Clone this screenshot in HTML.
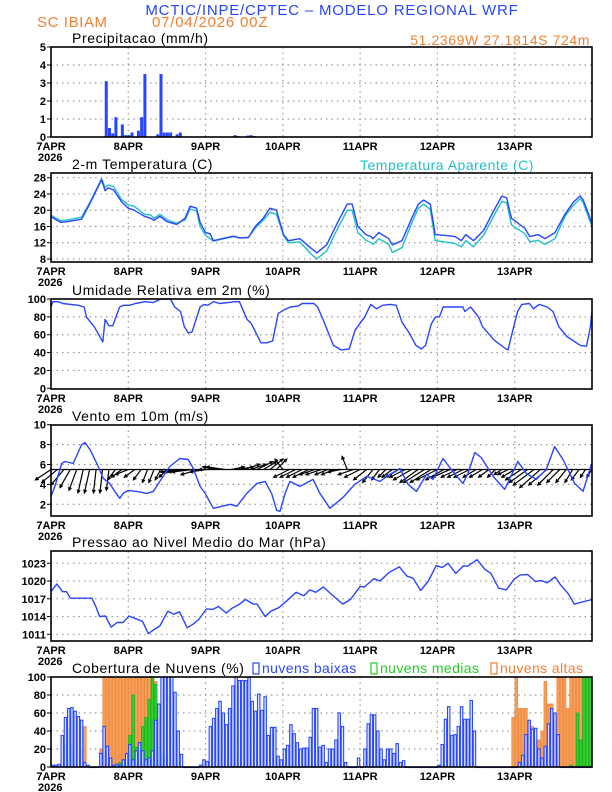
<!DOCTYPE html>
<html><head><meta charset="utf-8">
<style>
html,body{margin:0;padding:0;background:#fff;}
svg{display:block;font-family:"Liberation Sans",sans-serif;}
</style></head>
<body>
<svg id="chart" width="612" height="792" viewBox="0 0 612 792">
<text x="332" y="15" text-anchor="middle" font-size="15" fill="#2846ff" letter-spacing="0.8">MCTIC/INPE/CPTEC – MODELO REGIONAL WRF</text>
<text x="37" y="27" font-size="15" fill="#f08030" letter-spacing="0.6">SC IBIAM</text>
<text x="152" y="27" font-size="15" fill="#f08030" letter-spacing="0.8">07/04/2026 00Z</text>
<text x="590" y="45" text-anchor="end" font-size="14" fill="#f08030" letter-spacing="0.6">51.2369W 27.1814S 724m</text>
<text x="360" y="170" font-size="14" fill="#20c0c8" letter-spacing="0.5">Temperatura Aparente (C)</text>
</svg>
<script>
// ---------- data ----------
const dayLabels = ["7APR","8APR","9APR","10APR","11APR","12APR","13APR"];
const precipT = [17,18,19,20,22,23,24,25,27,28,29,33,34,35,36,37,39,40,57,58,60,61,62,63];
const precipV = [3.1,0.5,0.2,1.1,0.7,0.1,0.1,0.25,0.35,1.1,3.5,0.15,3.5,0.25,0.25,0.25,0.15,0.25,0.1,0.05,0.03,0.08,0.1,0.05];

const tempT = [0,3,6,9.5,12,15.7,16.8,17.8,19.4,22,24,25.8,29,31,32,33.8,36,39,41.6,43.2,45.2,46.3,48,49.4,50.4,56.6,58.7,61.3,63.4,65.9,68,70,72.2,73.7,77.3,80.4,82.5,85.6,89,92,93.5,95.3,97.8,99.4,100,101.8,104.9,106,109,112,114.1,115.7,117.8,119.3,122.4,125.5,127.4,128.8,131.2,134.3,137.9,140,141.5,143,147.2,148.7,151.3,153.4,156.5,159.6,162.2,164.3,165.3,167.4,168];
const tempV = [18.4,17.0,17.3,17.8,21.5,27.5,24.8,25.5,25.0,22,20.5,20.0,18.5,18.0,17.5,18.5,17.2,16.5,18.0,21.0,20.5,17,14.5,14.2,12.5,13.6,13.2,13.3,16,18,20.5,20,14,12.5,13,10.9,9.5,11.5,17,21.5,21.5,16,14,13.5,13,14.5,13,11.5,12.5,18,21.5,22.5,21.5,14,13.8,13.5,12.5,14,12.5,15,20.5,23.5,23,18,15.5,13.5,14,13,14.5,19,22,23.5,22.5,18,16.7];
const appV = [18.8,17.4,17.7,18.3,21.8,27.8,25.6,26.2,25.8,22.6,21.3,21.0,19.0,18.8,18.0,19.0,17.7,16.8,17.6,20.3,19.8,16,13.8,13.0,12.4,13.5,13.2,13.3,15.6,17.5,19.5,19,13.8,12.0,12.2,9.5,8.0,10.0,15.5,20.0,20.0,14.5,12.6,12.0,11.6,13.0,11.6,9.6,10.8,16.8,20.5,21.5,20.2,12.5,12.2,11.8,11.0,12.5,11.0,13.8,19.2,22.2,21.8,16.4,14.2,12.2,12.6,11.6,13.0,18.5,21.2,22.8,21.8,17.2,16.2];

const rhT = [0,0.6,2.4,3.6,8.5,10.3,11,13.4,16.1,16.8,18,19.2,21.3,22.5,24.4,26.2,29.2,31.7,34.1,37.1,38.4,40.2,41.4,42.6,43.8,46.3,47.5,48.7,50.5,52.4,57.2,58.5,60.9,62.1,65.2,67,68.8,70.6,72.5,74.3,76.7,78,81.6,82.8,84.6,87.7,90.1,92.6,94.4,96.2,97.4,99.3,101.1,102.9,105.4,107.2,109,111.4,113.3,115.1,116.3,118.1,119.4,120.6,121.8,123.6,125.4,127.9,128.5,130.3,132.8,134,137.6,141.3,141.9,143.7,144.9,146.2,148.6,149.8,151.6,154.1,155.9,157.7,160.2,164.4,166.3,167.5,168];
const rhV = [91,97,97,95,93,91,80,69,52,77,70,70,91,93,93,95,97,96,100,100,91,86,69,62,63,91,94,93,97,95,97,97,77,73,51,51,53,84,88,91,92,95,95,91,76,48,43,44,65,74,80,94,89,93,94,93,74,61,48,44,48,72,80,80,91,91,91,91,86,91,80,69,54,44,43,69,86,94,95,89,94,91,86,69,58,48,47,69,86];

const windT = [0,1.2,3.3,4.4,6.9,9.5,10.6,12.1,14.7,16.2,18.2,19.8,21.4,22.4,24,26.6,29.7,31.8,33.8,36.9,40,42.6,44.2,46.3,47.9,50.4,53,55.7,57.7,60.8,64,66.5,68.5,70.1,71.1,72.7,74.2,77.3,81.4,83.5,86.6,90.7,94.3,98,102.1,105.2,108.3,110.9,113.5,116.6,118.6,121.7,124.3,127.9,129.5,131.6,133.6,137.3,140.9,145,147.6,150.7,153.8,156.4,159,162.6,165.2,167.8];
const windV = [2.8,3.8,6.1,6.3,6.1,8.0,8.2,7.5,5.8,4.6,4.1,3.3,2.6,3.1,3.4,3.3,3.1,3.3,4.3,5.8,6.6,6.5,5.6,3.8,3.1,1.6,1.8,2.0,1.8,3.1,4.1,4.3,3.1,1.4,1.3,3.1,4.3,3.8,4.5,3.1,1.6,2.7,4.0,4.8,4.3,5.0,5.6,4.0,3.3,5.0,4.5,6.6,5.5,4.1,5.1,7.2,6.7,4.8,3.5,6.3,5.1,4.5,5.5,7.8,6.5,4.1,3.3,6.0];
// wind vector components every 2 h (t = 0,2,...,168)
const windU = [-6,-6,-5,-4, -3,-2,-2,-1,-1,-1, -3,-4,-5,-4,-3,-2, -2,-2,-3,-5,-6, -7,-8,-7,-6,-5,-6,-7, 5,6,6,6,6,5,5,4, -3,-6,-6,-6,-6, -6,-6,-5,-5,-5,-2,-6, -6,-5,-4,-3,-3,-4,-5, -6,-7,-7,-8,-8,-8,-7,-7,-6,-6,-6,-5,-5, -4,-3,-3,-4,-5,-6, -7,-8,-8,-7,-6,-5, -4,-3,-3,-2,-2];
const windW = [-4,-5,-6,-7, -8,-9,-9,-9,-9,-8, -4,-3,-2,-3,-4,-5, -5,-4,-3,-1,-1, -1,-1,-2,-1,0,1,1, 1,1,2,2,3,3,4,4, 4,-3,-3,-3,-3, -2,-2,-2,-2,-1,5,-2, -3,-4,-5,-4,-3,-3,-3, -3,-4,-5,-5,-5,-4,-4,-3,-3,-3,-3,-3,-3, -3,-3,-2,-2,-3,-4, -5,-6,-7,-6,-6,-5, -5,-5,-4,-3,-3];

const presT = [0,1.8,3.6,4.8,6,8.5,12.7,13.9,15.1,16.9,18.7,20.5,22.4,24.2,26,28.4,30.2,32,33.8,36.3,38.1,39.9,42.3,44.1,45.9,48.3,50.2,52,54.4,56.2,58.6,60.4,62.8,64,66.5,68.3,70.7,73.1,76.1,78.5,80.4,82.2,84.6,87,90.6,93,96,97.3,100.3,102.1,105.1,108.2,110.6,112.4,114.8,117.2,119.6,121.5,123.3,125.7,128.1,129.3,132.3,134.7,136.6,139,141.4,143.8,145.6,148,150.5,152.3,154.1,156.5,158.3,160.7,162.5,164.4,167.4,168];
const presV = [1018.2,1019.5,1018.2,1018.2,1017.1,1017.1,1017.1,1015.7,1014,1014.1,1012.2,1013,1013,1014.1,1013.7,1013.2,1011.1,1011.8,1012.4,1014.9,1014.4,1014.8,1012.1,1012.7,1013.5,1015.3,1015.2,1015.7,1014.6,1015.4,1016.1,1016.9,1016.1,1016.1,1014,1014.9,1015.5,1016.6,1018.1,1017.5,1018.5,1018.1,1019,1017.8,1016.1,1016.9,1019.1,1019,1020.4,1020,1021.5,1022.4,1020.8,1020.5,1018.4,1020,1022.6,1022.3,1023,1021.3,1022.6,1022.5,1023.6,1022,1021.3,1018.8,1018.5,1020.3,1021,1021.1,1019.9,1020.1,1019.7,1020.7,1019.3,1017.8,1016.1,1016.4,1016.8,1016.8];

const lowCloud = [2,2,3, 35,55,65,66,62,56,52, 5,2,0,0,0, 15,45,23,10,2, 3,2,8,15,25,8,18,27,18,8,10,18, 52,70,100,100,100,100,83,40,14, 0,0,0,0,0, 2,8,6, 45,54,65,73,60,47,65,90,100,96,96, 96,100,73,62,81,63,78,35,44,44, 12,8,20,24,47,37,27,20, 21,21,33,65,65,22,24,5,20,20, 30,60,45,5,0,0,0,10,0,20,48,58, 58,40,20,8,20,20,15,26,5,7,0, 0,0,0,0,0,0,0,0,0, 2,25,53,67,35,36,45,67,53,53,74, 40, 0,0,0,0,0,0,0,0,0,0,0,0,0, 5,13,36,52,42,43,20,10,23,48,65, 60,36, 0,0,0,0,0,0,0,0,0,0];
const medT = [4,5,6,20,21,22,23,24,25,26,27,28,29,30,31,32,33,34,35,146,148,150,152,161,163,164,165,166,167];
const medV = [25,42,24,3,5,8,5,35,80,22,15,45,55,75,100,92,22,15,10,5,4,5,3,2,60,30,100,100,100];
const highT = [9,10,15,16,17,18,19,20,21,22,23,24,25,26,27,28,29,30,31,32,33,34,143,144,145,146,147,148,149,150,151,152,153,154,155,156,157,158,159,160,161,162,163,164,165,166,167];
const highV = [20,45,20,100,100,100,100,100,100,100,100,100,100,100,100,100,100,100,100,95,55,13,55,100,65,65,65,50,45,30,30,40,95,70,70,50,100,100,100,65,100,100,100,100,100,100,100];

// ---------- geometry ----------
const svg = document.getElementById('chart');
const NS = 'http://www.w3.org/2000/svg';
const X0 = 51, X1 = 592, HOURS = 168;
function xs(t){ return X0 + t*(X1-X0)/HOURS; }
function lin(v0,y0,v1,y1){ return v => y0 + (v-v0)*(y1-y0)/(v1-v0); }
function el(tag, parent){ const e=document.createElementNS(NS,tag); (parent||svg).appendChild(e); return e; }
function set(e,o){ for(const k in o) e.setAttribute(k,o[k]); return e; }

const panels = [
 {key:'precip', top:47, bot:137, y:lin(0,137,5,47), ticks:[0,1,2,3,4,5], title:'Precipitacao (mm/h)'},
 {key:'temp', top:173, bot:262, y:lin(8,259,28,177.7), ticks:[8,12,16,20,24,28], title:'2-m Temperatura (C)'},
 {key:'rh', top:299, bot:389, y:lin(0,388.3,100,299), ticks:[0,20,40,60,80,100], title:'Umidade Relativa em 2m (%)'},
 {key:'wind', top:425, bot:516, y:lin(2,504.3,10,424.7), ticks:[2,4,6,8,10], title:'Vento em 10m (m/s)'},
 {key:'pres', top:551, bot:641, y:lin(1011,634.3,1023,563.3), ticks:[1011,1014,1017,1020,1023], title:'Pressao ao Nivel Medio do Mar (hPa)'},
 {key:'cloud', top:677, bot:767, y:lin(0,767,100,677), ticks:[0,20,40,60,80,100], title:'Cobertura de Nuvens (%)'}
];

panels.forEach(p=>{
  const g = el('g');
  
  
  p.g = g;
  p.ticks.forEach(v=>{
    const yy=p.y(v);
    if (yy>p.top+1 && yy<p.bot-1){
      const gl=set(el('line',g),{x1:X0,x2:X1,y1:yy,y2:yy,stroke:'#999','stroke-width':1.2,'stroke-dasharray':'1.5,4'});
      
      
    }
    const tk=set(el('line',g),{x1:X0-4,x2:X0,y1:yy,y2:yy,stroke:'#000','stroke-width':1});
    
    
    const tl=set(el('text',g),{x:X0-5,y:yy+4,'text-anchor':'end','font-size':11,'font-weight':'bold',fill:'#000'});
    tl.textContent=v;
    
    
  });
  dayLabels.forEach((d,i)=>{
    const xx=xs(i*24);
    if(i>0){
      const vl=set(el('line',g),{x1:xx,x2:xx,y1:p.top,y2:p.bot,stroke:'#999','stroke-width':1.2,'stroke-dasharray':'1.5,4'});
      
      
    }
    const xl=set(el('text',g),{x:xx,y:p.bot+13,'text-anchor':'middle','font-size':11,'font-weight':'bold',fill:'#000'});
    xl.textContent=d;
    
    
  });
  const yr=set(el('text',g),{x:X0-13,y:p.bot+24,'font-size':11,'font-weight':'bold',fill:'#000'});
  yr.textContent='2026';
  
  
  const tt=set(el('text',g),{x:72,y:p.top-4,'font-size':14,fill:'#000','letter-spacing':0.6});
  tt.textContent=p.title;
  
  
});

function frame(p){
  const f=set(el('rect',p.g),{x:X0,y:p.top,width:X1-X0,height:p.bot-p.top,fill:'none',stroke:'#000','stroke-width':1.6});
  
  
}
function polyline(p, T, V, color, name, w){
  const pts=T.map((t,i)=>xs(t).toFixed(1)+','+p.y(V[i]).toFixed(1)).join(' ');
  const l=set(el('polyline',p.g),{points:pts,fill:'none',stroke:color,'stroke-width':w||1.4,'stroke-linejoin':'round'});
  
  
}
const BLUE='#2846ff', CYAN='#20c0c8';

(function(){
  const p=panels[0];
  precipT.forEach((t,i)=>{
    const y=p.y(precipV[i]);
    const b=set(el('rect',p.g),{x:xs(t)-1,y:y,width:3,height:p.y(0)-y,fill:BLUE});
    
    
  });
  frame(p);
})();
(function(){
  const p=panels[1];
  polyline(p,tempT,appV,CYAN,'apparent-temp-line');
  polyline(p,tempT,tempV,BLUE,'temp-line');
  frame(p);
})();
(function(){
  const p=panels[2];
  polyline(p,rhT,rhV,BLUE,'rh-line');
  frame(p);
})();
(function(){
  const p=panels[3];
  const yb=p.y(5.5), S=2.6;
  windU.forEach((u,i)=>{
    const t=i*2, x=xs(t), v=windW[i];
    const x2=x+u*S, y2=yb-v*S;
    const a=set(el('line',p.g),{x1:x,y1:yb,x2:x2,y2:y2,stroke:'#000','stroke-width':1.2});
    
    
    const ang=Math.atan2(y2-yb,x2-x), h=3.5;
    const hd=set(el('polyline',p.g),{points:`${x2-h*Math.cos(ang-0.45)},${y2-h*Math.sin(ang-0.45)} ${x2},${y2} ${x2-h*Math.cos(ang+0.45)},${y2-h*Math.sin(ang+0.45)}`,fill:'none',stroke:'#000','stroke-width':1.1});
    
    
  });
  const bl=set(el('line',p.g),{x1:X0,x2:X1,y1:yb,y2:yb,stroke:'#000','stroke-width':1.2});
  
  
  polyline(p,windT,windV,BLUE,'wind-speed-line');
  frame(p);
})();
(function(){
  const p=panels[4];
  polyline(p,presT,presV,BLUE,'pressure-line');
  frame(p);
})();
(function(){
  const p=panels[5];
  const w=(X1-X0)/HOURS;
  highT.forEach((t,i)=>{
    const y=p.y(highV[i]);
    const b=set(el('rect',p.g),{x:xs(t)+0.3,y:y,width:w-0.6,height:p.y(0)-y,fill:'#f5a060',stroke:'#f08a3a','stroke-width':0.8});
    
    
  });
  medT.forEach((t,i)=>{
    const y=p.y(medV[i]);
    const b=set(el('rect',p.g),{x:xs(t)+0.3,y:y,width:w-0.6,height:p.y(0)-y,fill:'#30d030',stroke:'#20b020','stroke-width':0.8});
    
    
  });
  lowCloud.forEach((v,t)=>{
    const y=p.y(v);
    const b=set(el('rect',p.g),{x:xs(t)+0.4,y:y,width:w-0.8,height:Math.max(p.y(0)-y,0.5),fill:'#dde4ff','fill-opacity':0.85,stroke:BLUE,'stroke-width':1.1});
    
    
  });
  frame(p);
  const lg=[['nuvens baixas',BLUE,262],['nuvens medias','#20d020',380],['nuvens altas','#f08030',500]];
  lg.forEach(([txt,c,x])=>{
    const bx=set(el('rect',p.g),{x:x-9,y:p.top-14,width:6,height:11,fill:'none',stroke:c,'stroke-width':1.2});
    
    
    const tx=set(el('text',p.g),{x:x,y:p.top-4,'font-size':14,fill:c,'letter-spacing':0.4});
    tx.textContent=txt;
    
    
  });
})();
</script>
</body></html>
